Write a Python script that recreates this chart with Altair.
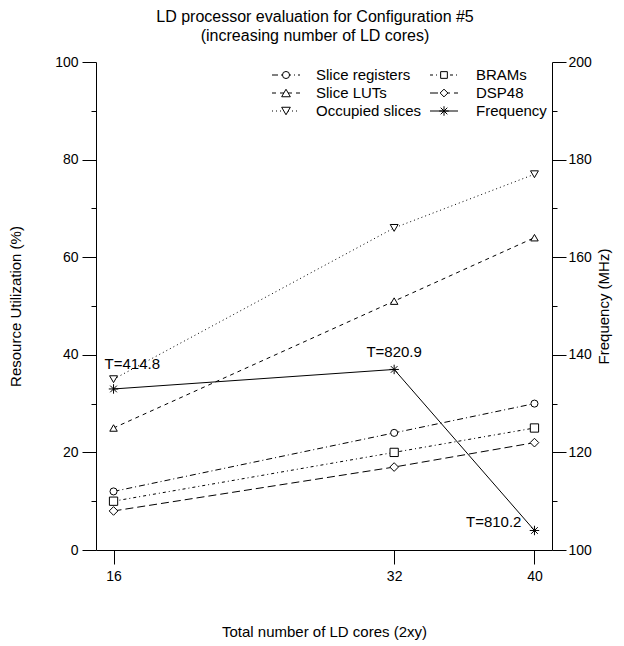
import altair as alt
import pandas as pd

# ---------------- data ----------------
cores = [16, 32, 40]
slice_registers = [12, 24, 30]
slice_luts = [25, 51, 64]
occupied_slices = [35, 66, 77]
brams = [10, 20, 25]
dsp48 = [8, 17, 22]
frequency = [133, 137, 104]
throughput_labels = ["T=414.8", "T=820.9", "T=810.2"]

series_names = ["Slice registers", "Slice LUTs", "Occupied slices", "BRAMs", "DSP48"]
series_values = [slice_registers, slice_luts, occupied_slices, brams, dsp48]

x_ticks = [16, 32, 40]
left_ticks = list(range(0, 101, 10))
right_ticks = list(range(100, 201, 10))

# ---------------- styles ----------------
FONT = "Liberation Sans"
dashes = [[6, 3, 1, 3], [4, 4], [1, 3], [3, 3, 1, 3], [8, 4]]
shapes = ["circle", "triangle-up", "triangle-down", "square", "diamond"]
sizes = [50, 75, 75, 45, 60]
STAR = "M0,-1L0,1M-1,0L1,0M-0.7,-0.7L0.7,0.7M-0.7,0.7L0.7,-0.7"

rows = []
for name, vals in zip(series_names, series_values):
    for c, v in zip(cores, vals):
        rows.append({"cores": c, "value": v, "series": name})
util_df = pd.DataFrame(rows)
freq_df = pd.DataFrame({"cores": cores, "freq": frequency, "label": throughput_labels})

x_enc = alt.X(
    "cores:Q",
    scale=alt.Scale(domain=[15, 41], nice=False, zero=False),
    axis=alt.Axis(
        values=x_ticks, title="Total number of LD cores (2xy)", tickSize=14,
        labelPadding=5, titlePadding=41, grid=False, labelFlush=False,
    ),
)

y_left = alt.Y(
    "value:Q",
    scale=alt.Scale(domain=[0, 100], nice=False),
    axis=alt.Axis(
        values=left_ticks, orient="left", title="Resource Utilization (%)",
        labelExpr="datum.value % 20 === 0 ? datum.label : ''",
        tickSize={"condition": {"test": "datum.value % 20 === 0", "value": 14}, "value": 5},
        labelPadding=4, titlePadding=31, grid=False,
    ),
)

y_right = alt.Y(
    "freq:Q",
    scale=alt.Scale(domain=[100, 200], nice=False, zero=False),
    axis=alt.Axis(
        values=right_ticks, orient="right", title="Frequency (MHz)",
        labelExpr="datum.value % 20 === 0 ? datum.label : ''",
        tickSize={"condition": {"test": "datum.value % 20 === 0", "value": 14}, "value": 5},
        labelPadding=2, titlePadding=20, titleAngle=270, grid=False,
    ),
)

dash_scale = alt.Scale(domain=series_names, range=dashes)
shape_scale = alt.Scale(domain=series_names, range=shapes)
size_scale = alt.Scale(domain=series_names, range=sizes)

base_util = alt.Chart(util_df)
util_lines = base_util.mark_line(color="black", strokeWidth=1).encode(
    x=x_enc, y=y_left,
    strokeDash=alt.StrokeDash("series:N", scale=dash_scale, legend=None),
    detail="series:N",
)
util_points = base_util.mark_point(filled=True, fill="white", stroke="black", strokeWidth=1, opacity=1).encode(
    x=x_enc, y=y_left,
    shape=alt.Shape("series:N", scale=shape_scale, legend=None),
    size=alt.Size("series:N", scale=size_scale, legend=None),
)
left_layer = alt.layer(util_lines, util_points)

base_freq = alt.Chart(freq_df)
freq_line = base_freq.mark_line(color="black", strokeWidth=1).encode(x=x_enc, y=y_right)
freq_points = base_freq.mark_point(shape=STAR, size=90, stroke="black", strokeWidth=1, filled=False, opacity=1).encode(
    x=x_enc, y=y_right
)
ann_style = dict(font=FONT, fontSize=15, color="black")
ann1 = base_freq.transform_filter(alt.datum.cores == cores[0]).mark_text(
    align="left", baseline="middle", dx=-9, dy=-25, **ann_style).encode(x=x_enc, y=y_right, text="label:N")
ann2 = base_freq.transform_filter(alt.datum.cores == cores[1]).mark_text(
    align="center", baseline="middle", dx=0, dy=-17, **ann_style).encode(x=x_enc, y=y_right, text="label:N")
ann3 = base_freq.transform_filter(alt.datum.cores == cores[2]).mark_text(
    align="right", baseline="middle", dx=-13, dy=-8, **ann_style).encode(x=x_enc, y=y_right, text="label:N")
right_layer = alt.layer(freq_line, freq_points, ann1, ann2, ann3)

# ---------------- manual legend ----------------
legend_names = series_names + ["Frequency"]
legend_cols = [0, 0, 0, 1, 1, 1]
legend_rows = [0, 1, 2, 0, 1, 2]
legend_dash = dashes + [[1, 0]]
legend_shape = shapes + [STAR]
legend_size = sizes + [90]
col_line = [(176, 204), (334, 362)]
col_text = [220, 380]
row_y = [13, 31, 49]

legend_layers = []
for i, name in enumerate(legend_names):
    c, r = legend_cols[i], legend_rows[i]
    d = pd.DataFrame({"label": [name]})
    x0, x1 = col_line[c]
    yy = row_y[r]
    legend_layers.append(
        alt.Chart(d).mark_rule(color="black", strokeWidth=1, strokeDash=legend_dash[i]).encode(
            x=alt.value(x0), x2=alt.value(x1), y=alt.value(yy))
    )
    legend_layers.append(
        alt.Chart(d).mark_point(shape=legend_shape[i], size=legend_size[i], filled=True,
                                fill="white" if i < 5 else "transparent",
                                stroke="black", strokeWidth=1, opacity=1).encode(
            x=alt.value((x0 + x1) / 2), y=alt.value(yy))
    )
    legend_layers.append(
        alt.Chart(d).mark_text(align="left", baseline="middle", font=FONT, fontSize=15, color="black").encode(
            x=alt.value(col_text[c]), y=alt.value(yy), text="label:N")
    )

chart = alt.layer(left_layer, right_layer, *legend_layers).resolve_scale(
    y="independent"
).properties(
    width=456, height=488,
    padding={"left": 88, "top": 54, "right": 64, "bottom": 92},
    autosize="none",
    title=alt.TitleParams(
        text=["LD processor evaluation for Configuration #5", "(increasing number of LD cores)"],
        font=FONT, fontSize=16, fontWeight="normal", color="black",
        anchor="middle", dx=-9, offset=11, lineHeight=19,
    ),
).configure_view(stroke=None).configure_axis(
    labelFont=FONT, titleFont=FONT, labelFontSize=14, titleFontSize=15,
    labelColor="black", titleColor="black", titleFontWeight="normal",
    domainColor="black", tickColor="black", domainWidth=1, tickWidth=1,
)

chart.save("out.html", embed_options={"renderer": "svg", "actions": False})
